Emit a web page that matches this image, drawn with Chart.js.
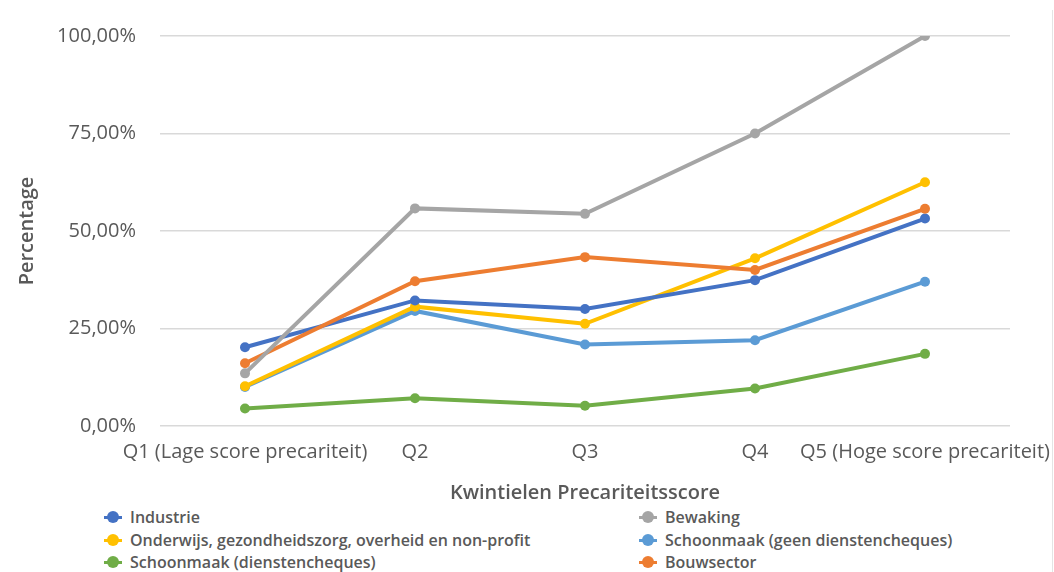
<!DOCTYPE html>
<html>
<head>
<meta charset="utf-8">
<script src="https://cdn.jsdelivr.net/npm/chart.js@4.4.1/dist/chart.umd.min.js"></script>
<style>
  html, body { margin: 0; padding: 0; background: #fff; }
  #wrap { position: relative; width: 1054px; height: 572px; overflow: hidden; }
  #chartBox { position: absolute; left: 0; top: 0; width: 1054px; height: 505px; }
  #legend { position: absolute; left: 0; top: 505px; width: 1054px; height: 67px;
            font-family: "Open Sans", sans-serif; font-weight: 600; font-size: 16px; color: #595959; }
  .item { position: absolute; height: 22px; display: flex; align-items: center; white-space: nowrap; }
  .mark { position: relative; width: 18px; height: 12px; margin-right: 8px; }
  .mark .ln { position: absolute; left: 0; top: 4.5px; width: 18px; height: 3px; }
  .mark .dot { position: absolute; left: 3px; top: 0; width: 12px; height: 12px; border-radius: 50%; }
  .edge { position: absolute; right: 1px; top: 10px; width: 1px; height: 562px; background: #e4e4e4; }
</style>
</head>
<body>
<div id="wrap">
  <div id="chartBox"><canvas id="c"></canvas></div>
  <div id="legend"></div>
  <div class="edge"></div>
</div>
<script>
// Quintiles of the precarity score
const categories = ['Q1 (Lage score precariteit)', 'Q2', 'Q3', 'Q4', 'Q5 (Hoge score precariteit)'];

// Share per sector, in percent
const industrie   = [20.2, 32.2, 30.0, 37.4, 53.2];
const bewaking    = [13.5, 55.8, 54.4, 75.0, 100.0];
const onderwijs   = [10.2, 30.6, 26.2, 43.0, 62.5];
const schoonGeen  = [10.0, 29.5, 20.9, 22.0, 37.0];
const schoonDc    = [4.5, 7.1, 5.2, 9.6, 18.5];
const bouwsector  = [16.1, 37.1, 43.3, 40.0, 55.7];

const yTicks = [0, 25, 50, 75, 100];

const seriesNames = [
  'Industrie',
  'Bewaking',
  'Onderwijs, gezondheidszorg, overheid en non-profit',
  'Schoonmaak (geen dienstencheques)',
  'Schoonmaak (dienstencheques)',
  'Bouwsector'
];
const seriesData = [industrie, bewaking, onderwijs, schoonGeen, schoonDc, bouwsector];
const seriesColors = ['#4472C4', '#A5A5A5', '#FFC000', '#5B9BD5', '#70AD47', '#ED7D31'];

// draw order: later datasets sit on top
const drawOrder = [4, 3, 2, 0, 5, 1];

const FONT = '"Open Sans", sans-serif';
const TXT = '#595959';

const datasets = seriesNames.map((name, i) => ({
  label: name,
  data: seriesData[i],
  borderColor: seriesColors[i],
  backgroundColor: seriesColors[i],
  borderWidth: 4,
  pointRadius: 5,
  pointHoverRadius: 5,
  pointBorderWidth: 0,
  tension: 0,
  order: drawOrder.length - drawOrder.indexOf(i)
}));

new Chart(document.getElementById('c'), {
  type: 'line',
  data: { labels: categories, datasets },
  options: {
    responsive: true,
    maintainAspectRatio: false,
    animation: false,
    layout: { padding: { left: 0, right: 44, top: 36, bottom: 0 } },
    plugins: { legend: { display: false }, tooltip: { enabled: false } },
    scales: {
      x: {
        offset: true,
        grid: { display: false, drawTicks: false },
        border: { display: false },
        ticks: { color: TXT, font: { family: FONT, size: 20 }, padding: 14, maxRotation: 0, autoSkip: false },
        title: { display: true, text: 'Kwintielen Precariteitsscore', color: TXT,
                 font: { family: FONT, size: 20, weight: '600' }, padding: { top: 10, bottom: 0 } },
        afterFit: s => { s.height = 79; s.paddingLeft = 0; s.paddingRight = 0; }
      },
      y: {
        min: 0, max: 100,
        afterBuildTicks: s => { s.ticks = yTicks.map(v => ({ value: v })); },
        grid: { color: '#D9D9D9', lineWidth: 1.5, drawTicks: false },
        border: { display: false },
        ticks: { color: TXT, font: { family: FONT, size: 20 }, padding: 24,
                 callback: v => v.toFixed(2).replace('.', ',') + '%' },
        title: { display: true, text: 'Percentage', color: TXT,
                 font: { family: FONT, size: 20, weight: '600' }, padding: { top: 15, bottom: 0 } },
        afterFit: s => { s.width = 160; }
      }
    }
  }
});

// two-column legend below the chart
const legend = document.getElementById('legend');
const colX = [104, 639];
const rowY = [1, 24, 46];
seriesNames.forEach((name, i) => {
  const el = document.createElement('div');
  el.className = 'item';
  el.style.left = colX[i % 2] + 'px';
  el.style.top = rowY[Math.floor(i / 2)] + 'px';
  el.innerHTML = '<span class="mark"><span class="ln" style="background:' + seriesColors[i] +
    '"></span><span class="dot" style="background:' + seriesColors[i] + '"></span></span>' +
    '<span>' + name + '</span>';
  legend.appendChild(el);
});
</script>
</body>
</html>
